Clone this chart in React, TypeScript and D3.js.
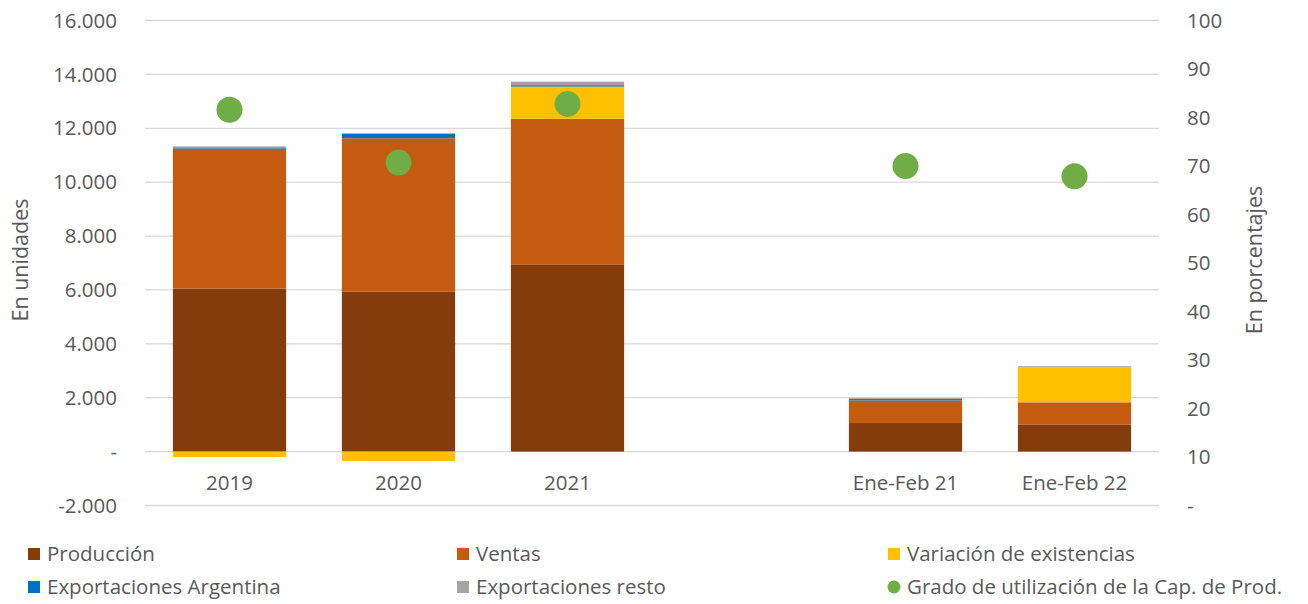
import React from "react";
import * as d3 from "d3";

const categories = ["2019", "2020", "2021", "", "Ene-Feb 21", "Ene-Feb 22"];
const produccion = [6050, 5930, 6930, null, 1060, 1010];
const ventas = [5200, 5700, 5420, null, 840, 820];
const variacion = [-200, -350, 1200, null, 0, 1290];
const expArgentina = [40, 160, 50, null, 50, 0];
const expResto = [40, 30, 130, null, 40, 50];
const utilizacion = [81.6, 70.7, 82.8, null, 70.0, 67.9];

const leftTicks = [-2000, 0, 2000, 4000, 6000, 8000, 10000, 12000, 14000, 16000];
const rightTicks = [0, 10, 20, 30, 40, 50, 60, 70, 80, 90, 100];

const seriesNames = ["Producción", "Ventas", "Variación de existencias", "Exportaciones Argentina", "Exportaciones resto"];
const seriesValues = [produccion, ventas, variacion, expArgentina, expResto];
const seriesColors = ["#843c0c", "#c55a11", "#ffc000", "#0070c0", "#a5a5a5"];
const dotColor = "#70ad47";

const W = 1308;
const H = 604;
const m = { left: 145, right: 149, top: 20.5, bottom: 98.5 };
const font = "'Open Sans', 'Liberation Sans', sans-serif";
const textColor = "#595959";
const fs = 20.5;

// thousands with dots, zero shown as a dash, plain hyphen for negatives
const fmt = (v: number) =>
  v === 0 ? "-" : d3.format(",")(v).replace(/,/g, ".").replace("\u2212", "-");

export default function App() {
  const x = d3
    .scaleBand()
    .domain(categories)
    .range([m.left, W - m.right])
    .paddingInner(0.33)
    .paddingOuter(0.165);

  const y = d3.scaleLinear().domain([-2000, 16000]).range([H - m.bottom, m.top]);
  const y2 = d3.scaleLinear().domain([0, 100]).range([H - m.bottom, m.top]);

  const rows = categories.map((c, i) => {
    const r: any = { cat: c };
    seriesNames.forEach((s, k) => (r[s] = seriesValues[k][i] ?? 0));
    return r;
  });
  const stacked = d3.stack().keys(seriesNames).offset(d3.stackOffsetDiverging)(rows);

  const legend = [
    { name: seriesNames[0], color: seriesColors[0], dot: false },
    { name: seriesNames[1], color: seriesColors[1], dot: false },
    { name: seriesNames[2], color: seriesColors[2], dot: false },
    { name: seriesNames[3], color: seriesColors[3], dot: false },
    { name: seriesNames[4], color: seriesColors[4], dot: false },
    { name: "Grado de utilización de la Cap. de Prod.", color: dotColor, dot: true },
  ];
  const legendX = [28, 457, 888];
  const legendY = [554, 587];

  return (
    <svg
      width={W}
      height={H}
      style={{ position: "absolute", left: 0, top: 0, background: "#fff", fontFamily: font }}
    >
      {/* gridlines */}
      {leftTicks.map((t) => (
        <line
          key={t}
          x1={m.left}
          x2={W - m.right}
          y1={y(t)}
          y2={y(t)}
          stroke="#d9d9d9"
          strokeWidth={1.3}
        />
      ))}

      {/* left axis labels */}
      {leftTicks.map((t) => (
        <text key={t} x={117} y={y(t)} dy="0.35em" textAnchor="end" fontSize={fs} fill={textColor}>
          {fmt(t)}
        </text>
      ))}
      {/* right axis labels */}
      {rightTicks.map((t) => (
        <text key={t} x={1187} y={y2(t)} dy="0.35em" textAnchor="start" fontSize={fs} fill={textColor}>
          {t === 0 ? "-" : t}
        </text>
      ))}

      <text transform={`translate(28,260) rotate(-90)`} textAnchor="middle" fontSize={21.5} fill={textColor}>
        En unidades
      </text>
      <text transform={`translate(1262,260) rotate(-90)`} textAnchor="middle" fontSize={21.5} fill={textColor}>
        En porcentajes
      </text>

      {/* bars */}
      {stacked.map((layer, k) => (
        <g key={layer.key} fill={seriesColors[k]}>
          {layer.map((d, i) =>
            categories[i] === "" || d[1] === d[0] ? null : (
              <rect
                key={i}
                x={x(categories[i])}
                width={x.bandwidth()}
                y={y(Math.max(d[0], d[1]))}
                height={Math.abs(y(d[0]) - y(d[1]))}
              />
            )
          )}
        </g>
      ))}

      {/* category labels */}
      {categories.map((c) => (
        <text
          key={c}
          x={(x(c) ?? 0) + x.bandwidth() / 2}
          y={483}
          dy="0.35em"
          textAnchor="middle"
          fontSize={fs}
          fill={textColor}
        >
          {c}
        </text>
      ))}

      {/* utilization dots */}
      {utilizacion.map((v, i) =>
        v == null ? null : (
          <circle
            key={i}
            cx={(x(categories[i]) ?? 0) + x.bandwidth() / 2}
            cy={y2(v)}
            r={13}
            fill={dotColor}
          />
        )
      )}

      {/* legend */}
      {legend.map((l, i) => {
        const lx = legendX[i % 3];
        const ly = legendY[Math.floor(i / 3)];
        return (
          <g key={l.name} transform={`translate(${lx},${ly})`}>
            {l.dot ? (
              <circle cx={6} cy={0} r={6.5} fill={l.color} />
            ) : (
              <rect x={0} y={-6} width={12} height={12} fill={l.color} />
            )}
            <text x={19} y={0} dy="0.35em" fontSize={fs} fill={textColor}>
              {l.name}
            </text>
          </g>
        );
      })}
    </svg>
  );
}
